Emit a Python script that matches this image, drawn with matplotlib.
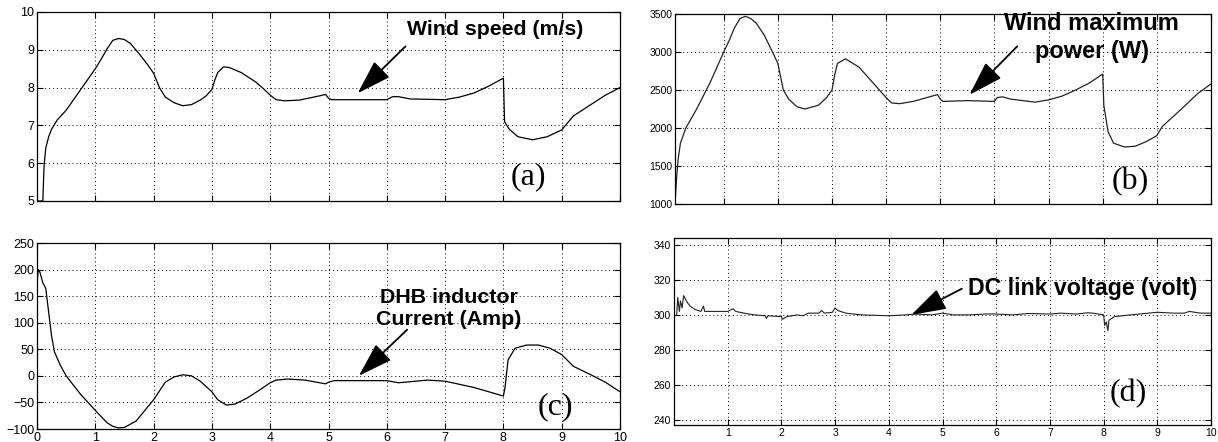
import matplotlib
matplotlib.use("Agg")
import matplotlib.pyplot as plt

# Wind speed (m/s) - panel (a)
t_wind = [0.0, 0.1, 0.12, 0.15, 0.2, 0.25, 0.35, 0.5, 0.75, 1.0, 1.1, 1.2, 1.3, 1.4, 1.5, 1.6,
          1.75, 1.9, 2.0, 2.1, 2.2, 2.35, 2.5, 2.65, 2.8, 2.9, 3.0, 3.05, 3.1, 3.2, 3.3, 3.5,
          3.75, 3.9, 4.0, 4.1, 4.25, 4.5, 4.75, 4.9, 4.95, 5.0, 5.05, 5.5, 6.0, 6.1, 6.2, 6.4,
          7.0, 7.25, 7.5, 7.75, 8.0, 8.02, 8.1, 8.25, 8.5, 8.75, 9.0, 9.2, 9.5, 9.75, 10.0]
wind_speed = [5.0, 5.0, 5.9, 6.4, 6.7, 6.9, 7.15, 7.4, 7.95, 8.5, 8.75, 9.02, 9.25, 9.3, 9.27, 9.17,
              8.9, 8.6, 8.38, 8.0, 7.75, 7.6, 7.52, 7.55, 7.67, 7.78, 7.95, 8.2, 8.4, 8.55, 8.53, 8.4,
              8.15, 7.95, 7.8, 7.68, 7.65, 7.67, 7.75, 7.8, 7.82, 7.72, 7.68, 7.68, 7.68, 7.76, 7.76, 7.7,
              7.68, 7.75, 7.86, 8.04, 8.25, 7.1, 6.9, 6.7, 6.62, 6.7, 6.88, 7.25, 7.55, 7.8, 8.0]

# Wind maximum power (W) - panel (b)
t_power = [0.1, 0.13, 0.16, 0.2, 0.3, 0.5, 0.75, 1.0, 1.1, 1.2, 1.3, 1.4, 1.5, 1.6, 1.75, 1.9,
           2.0, 2.1, 2.2, 2.35, 2.5, 2.75, 2.9, 3.0, 3.05, 3.1, 3.25, 3.5, 3.75, 4.0, 4.1, 4.25,
           4.5, 4.75, 4.95, 5.0, 5.05, 5.5, 6.0, 6.05, 6.15, 6.3, 6.75, 7.0, 7.25, 7.5, 7.75, 8.0,
           8.02, 8.1, 8.2, 8.4, 8.6, 8.8, 9.0, 9.1, 9.5, 9.75, 10.0]
wind_power = [1000, 1350, 1600, 1800, 2000, 2250, 2600, 3000, 3150, 3320, 3440, 3470, 3440, 3380, 3220, 3000,
              2850, 2500, 2380, 2280, 2250, 2300, 2400, 2500, 2700, 2850, 2910, 2800, 2600, 2400, 2330, 2320,
              2350, 2400, 2440, 2380, 2350, 2360, 2350, 2400, 2410, 2380, 2340, 2370, 2420, 2500, 2590, 2710,
              2300, 1950, 1800, 1750, 1760, 1820, 1900, 2020, 2280, 2450, 2580]

# DHB inductor current (Amp) - panel (c)
t_current = [0.0, 0.02, 0.05, 0.1, 0.15, 0.2, 0.25, 0.3, 0.4, 0.5, 0.75, 1.0, 1.2, 1.3, 1.4, 1.5,
             1.7, 2.0, 2.2, 2.35, 2.5, 2.65, 2.8, 3.0, 3.1, 3.25, 3.4, 3.6, 3.8, 4.0, 4.1, 4.3,
             4.6, 4.8, 4.95, 5.0, 5.1, 5.5, 6.0, 6.2, 6.4, 6.7, 7.0, 7.5, 8.0, 8.03, 8.08, 8.2,
             8.4, 8.6, 8.8, 9.0, 9.2, 9.5, 9.75, 10.0]
dhb_current = [170, 200, 195, 175, 165, 120, 75, 45, 20, 0, -35, -65, -88, -95, -98, -97,
               -85, -45, -12, -2, 2, 0, -10, -30, -45, -55, -53, -42, -28, -13, -8, -6,
               -8, -12, -15, -12, -9, -9, -9, -13, -11, -8, -10, -22, -38, -20, 30, 52,
               58, 58, 52, 40, 18, 2, -12, -30]

# DC link voltage (volt) - panel (d)
t_dc = [0.05, 0.07, 0.1, 0.12, 0.15, 0.18, 0.25, 0.3, 0.4, 0.5, 0.55, 0.57, 0.7, 1.0, 1.1, 1.15,
        1.3, 1.5, 1.7, 1.72, 1.75, 2.0, 2.02, 2.1, 2.3, 2.4, 2.5, 2.7, 2.75, 2.8, 2.95, 3.0,
        3.05, 3.2, 3.5, 4.0, 4.3, 4.5, 4.8, 5.0, 5.2, 5.5, 5.8, 6.0, 6.3, 6.6, 7.0, 7.2,
        7.5, 7.7, 7.8, 8.0, 8.02, 8.05, 8.08, 8.1, 8.2, 8.5, 9.0, 9.3, 9.5, 9.6, 9.8, 10.0]
dc_voltage = [300, 310, 302, 308, 304, 311, 307, 305, 303, 302, 305, 302, 302, 302, 303.5, 302,
              301, 300, 299.5, 298, 299.5, 299, 297.5, 299, 300, 299.5, 301, 301, 302.5, 301, 301.5, 304,
              302.5, 301, 300, 299.5, 300, 300.5, 300, 301, 300, 300, 300.5, 300.5, 300, 300.8, 300.5, 301,
              300.5, 301.2, 301, 300, 294, 296, 291, 297, 299, 300, 301.5, 301, 301, 302, 301, 301]

px_w, px_h = 1218, 442


def box(l, t, r, b):
    # pixel box -> figure fraction [left, bottom, width, height]
    return [l / px_w, 1 - b / px_h, (r - l) / px_w, (b - t) / px_h]


def style_axes(ax, size=9):
    """
    MATLAB-like look: dotted grid, inward ticks on every side
    """
    ax.grid(True, linestyle=(0, (1, 3)), color="black", linewidth=0.7)
    ax.tick_params(direction="in", top=True, right=True, length=4, width=0.8,
                   labelsize=size, pad=2)
    for sp in ax.spines.values():
        sp.set_linewidth(0.9)
    for lab in ax.get_xticklabels() + ax.get_yticklabels():
        lab.set_family(["Liberation Sans Narrow", "Liberation Sans", "DejaVu Sans"])


def add_note(ax, text, xy, xytext, tail, size, spacing=1.2):
    ax.annotate("", xy=xy, xytext=tail,
                arrowprops=dict(arrowstyle="-|>,head_length=1.2,head_width=0.38",
                                mutation_scale=18, lw=1.3, color="black",
                                shrinkA=0, shrinkB=0))
    ax.text(xytext[0], xytext[1], text, ha="center", va="center", fontsize=size,
            fontweight="bold", family="Liberation Sans", linespacing=spacing)


def add_label(ax, text, x, y):
    ax.text(x, y, text, ha="center", va="center", fontsize=23, family="Liberation Serif")


fig = plt.figure(figsize=(px_w / 100, px_h / 100), dpi=100)

# (a) wind speed
ax_a = fig.add_axes(box(37, 12, 620, 201))
ax_a.plot(t_wind, wind_speed, color="black", linewidth=0.9)
ax_a.set_xlim(0, 10)
ax_a.set_ylim(5, 10)
ax_a.set_xticks(range(0, 11))
ax_a.set_xticklabels([])
ax_a.set_yticks(range(5, 11))
style_axes(ax_a)
add_note(ax_a, "Wind speed (m/s)", (5.5, 7.85), (7.85, 9.55), (6.32, 9.09), 15.3)
add_label(ax_a, "(a)", 8.42, 5.63)

# (b) wind maximum power
ax_b = fig.add_axes(box(675, 14, 1211, 204))
ax_b.plot(t_power, wind_power, color="#222222", linewidth=0.9)
ax_b.set_xlim(0.1, 10)
ax_b.set_ylim(1000, 3500)
ax_b.set_xticks(range(1, 11))
ax_b.set_xticklabels([])
ax_b.set_yticks(range(1000, 3501, 500))
style_axes(ax_b, 7.5)
add_note(ax_b, "Wind maximum\npower (W)", (5.54, 2437), (7.8, 3194), (6.42, 3074), 17, 1.3)
add_label(ax_b, "(b)", 8.5, 1294)

# (c) DHB inductor current
ax_c = fig.add_axes(box(37, 243, 620, 429))
ax_c.plot(t_current, dhb_current, color="black", linewidth=0.9)
ax_c.set_xlim(0, 10)
ax_c.set_ylim(-100, 250)
ax_c.set_xticks(range(0, 11))
ax_c.set_yticks(range(-100, 251, 50))
style_axes(ax_c)
add_note(ax_c, "DHB inductor\nCurrent (Amp)", (5.52, 0), (7.06, 127), (6.35, 87), 15.4)
add_label(ax_c, "(c)", 8.89, -59)

# (d) DC link voltage
ax_d = fig.add_axes(box(674, 238, 1211, 425))
ax_d.plot(t_dc, dc_voltage, color="#222222", linewidth=0.8)
ax_d.set_xlim(0, 10)
ax_d.set_ylim(237, 344)
ax_d.set_xticks(range(1, 11))
ax_d.set_yticks(range(240, 341, 20))
style_axes(ax_d, 7.5)
add_note(ax_d, "DC link voltage (volt)", (4.42, 300), (7.61, 315), (5.36, 315), 16.7)
add_label(ax_d, "(d)", 8.45, 255)

fig.savefig("out.png", dpi=100)
